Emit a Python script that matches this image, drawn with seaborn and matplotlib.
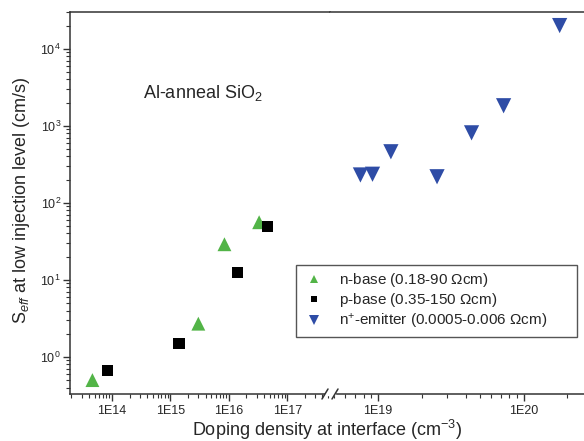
import numpy as np
import pandas as pd
import matplotlib
matplotlib.use("Agg")
import matplotlib.pyplot as plt
from matplotlib.ticker import LogLocator, FuncFormatter, NullFormatter
from matplotlib.lines import Line2D
import seaborn as sns

# Effective surface recombination velocity vs. interface doping density
nbase_N = [4.6e13, 3.0e15, 8.4e15, 3.3e16]
nbase_S = [0.50, 2.7, 29, 56]

pbase_N = [8.2e13, 1.4e15, 1.4e16, 4.6e16]
pbase_S = [0.66, 1.5, 12.3, 49]

emit_N = [7.6e18, 9.2e18, 1.23e19, 2.55e19, 4.4e19, 7.3e19, 1.77e20]
emit_S = [230, 235, 460, 218, 810, 1820, 2.0e4]

labels = [r"n-base (0.18-90 $\Omega$cm)",
          r"p-base (0.35-150 $\Omega$cm)",
          r"n$^{+}$-emitter (0.0005-0.006 $\Omega$cm)"]

df = pd.concat([
    pd.DataFrame({"N": nbase_N, "S": nbase_S, "series": labels[0]}),
    pd.DataFrame({"N": pbase_N, "S": pbase_S, "series": labels[1]}),
    pd.DataFrame({"N": emit_N, "S": emit_S, "series": labels[2]}),
], ignore_index=True)

sns.set_style("ticks")
plt.rcParams["font.family"] = ["Liberation Sans", "DejaVu Sans"]
plt.rcParams["mathtext.fontset"] = "custom"
plt.rcParams["mathtext.rm"] = "Liberation Sans"
plt.rcParams["mathtext.it"] = "Liberation Sans:italic"
plt.rcParams["mathtext.bf"] = "Liberation Sans:bold"

palette = {labels[0]: "#52b447", labels[1]: "#000000", labels[2]: "#2e4ca6"}
markers = {labels[0]: "^", labels[1]: "s", labels[2]: "v"}
sizes = {labels[0]: 100, labels[1]: 64, labels[2]: 120}

W, H = 584, 441
fig = plt.figure(figsize=(W / 100, H / 100), dpi=100)

x0, xb, x1 = 70, 330, 584
ytop, ybot = 12, 394
bottom = 1 - ybot / H
height = (ybot - ytop) / H
axL = fig.add_axes([x0 / W, bottom, (xb - x0) / W, height])
axR = fig.add_axes([xb / W, bottom, (x1 - xb) / W, height], sharey=axL)

for ax, leg in ((axL, False), (axR, True)):
    sns.scatterplot(data=df, x="N", y="S", hue="series", style="series",
                    size="series", palette=palette, markers=markers,
                    sizes=sizes, edgecolor="none", linewidth=0,
                    legend=leg, ax=ax)
    ax.set_xscale("log")
    ax.set_yscale("log")
    ax.set_xlabel("")
    ax.set_ylabel("")
    for s in ax.spines.values():
        s.set_color("#333333")
        s.set_linewidth(1.1)
    ax.spines["right"].set_visible(False)
    ax.xaxis.set_major_locator(LogLocator(base=10, numticks=20))
    ax.xaxis.set_minor_locator(LogLocator(base=10, subs=np.arange(2, 10), numticks=20))
    ax.xaxis.set_minor_formatter(NullFormatter())
    ax.xaxis.set_major_formatter(
        FuncFormatter(lambda v, p: "1E%d" % int(round(np.log10(v)))))
    ax.tick_params(axis="both", which="major", direction="out", length=5,
                   width=1.0, color="#333333", labelsize=9)
    ax.tick_params(axis="both", which="minor", direction="out", length=3,
                   width=0.8, color="#333333")
    ax.tick_params(axis="x", which="major", pad=3)
    ax.tick_params(axis="y", which="major", pad=1.5)
    ax.tick_params(axis="x", which="both", top=False, labeltop=False)
    ax.tick_params(axis="y", which="both", right=False, labelright=False)

axL.set_xlim(1.9e13, 5.4e17)
axR.set_xlim(4.7e18, 2.6e20)
axL.set_ylim(0.33, 3.0e4)
axL.yaxis.set_major_locator(LogLocator(base=10, numticks=20))
axL.yaxis.set_minor_locator(LogLocator(base=10, subs=np.arange(2, 10), numticks=20))
axL.yaxis.set_minor_formatter(NullFormatter())
axR.spines["left"].set_visible(False)
axR.tick_params(axis="y", which="both", left=False, labelleft=False)

sns.move_legend(axR, "upper left",
                bbox_to_anchor=(296 / W, 1 - 337 / H, 281 / W, 72 / H),
                bbox_transform=fig.transFigure, mode="expand", title=None,
                frameon=True, fancybox=False, fontsize=11, markerscale=0.6,
                labelspacing=0.15, handletextpad=0.9, borderpad=0.4,
                borderaxespad=0, handlelength=1.5, framealpha=1)
lg = axR.get_legend()
lg.get_frame().set_edgecolor("#555555")
lg.get_frame().set_linewidth(1.0)
lg.set_zorder(10)

# break marks on the bottom axis
yb = 1 - ybot / H
fig.add_artist(Line2D([326 / W, 334 / W], [yb, yb], transform=fig.transFigure,
                      color="white", lw=2.5, zorder=5))
for cx in (325, 335):
    fig.add_artist(Line2D([(cx - 3) / W, (cx + 3) / W],
                          [yb - 5 / H, yb + 5 / H],
                          transform=fig.transFigure, color="#333333", lw=1.1,
                          zorder=6))

fig.text(203 / W, 1 - 93 / H, r"Al-anneal SiO$_2$", ha="center", va="center",
         fontsize=13)
fig.text(22 / W, 1 - 200 / H, r"S$_{eff}$ at low injection level (cm/s)",
         rotation=90, ha="center", va="center", fontsize=13)
fig.text(327 / W, 1 - 430 / H, r"Doping density at interface (cm$^{-3}$)",
         ha="center", va="center", fontsize=13)

fig.savefig("out.png", dpi=100)
